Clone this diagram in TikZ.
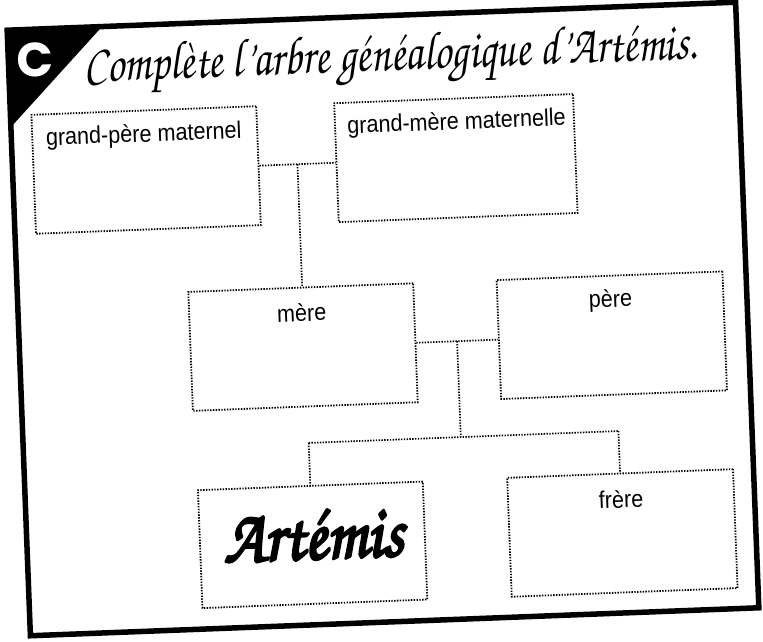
\documentclass[tikz,border=0pt]{standalone}
\usepackage[T1]{fontenc}
\usepackage{fontspec}
\setmainfont{Liberation Sans}
\newfontfamily\poppfont{Poppins}
\newcommand\chanceryfont{\fontencoding{T1}\fontfamily{pzc}\fontseries{mb}\fontshape{it}}
\newcommand\strokedtxt[1]{\special{pdf:literal direct q 2 Tr 2.2 w 1 j}#1\special{pdf:literal direct Q}}
\newcommand\narrowtxt[1]{\scalebox{0.9}[1]{#1}}
\usetikzlibrary{calc}
\tikzset{
  famillebox/.style={draw, rectangle, inner sep=0pt, line width=1.8pt,
    dash pattern=on 1.4pt off 1.4pt, minimum height=119pt},
  lien/.style={draw, line width=1.7pt, dash pattern=on 1.4pt off 1.4pt},
  lbl/.style={inner sep=0pt, font=\fontsize{24}{26}\selectfont},
}
\begin{document}
\begin{tikzpicture}[x=1pt,y=1pt]
\useasboundingbox (0,0) rectangle (763,642);
\begin{scope}[rotate around={2.2:(383,323)}, transform shape]
  % frame and corner tab
  \fill[black] (18.5,626) -- (113.5,626) -- (18.5,529) -- cycle;
  \draw[line width=5.5pt] (18.5,20) rectangle (747.5,626);
  \node[text=white, inner sep=0pt, font=\poppfont\bfseries\fontsize{48}{48}\selectfont] (lettre) at (45.7,595) {C};
  \node[anchor=base west, inner sep=0pt] (titre) at (94,571)
    {\scalebox{1}[1.25]{\resizebox{613pt}{!}{\chanceryfont\fontsize{40}{40}\selectfont Complète l'arbre généalogique d'Artémis.}}};
  % boxes
  \node[famillebox, minimum width=225pt] (gpm) at (152,481) {};
  \node[famillebox, minimum width=239pt] (gmm) at (462,481) {};
  \node[famillebox, minimum width=225pt] (mere) at (302,298) {};
  \node[famillebox, minimum width=226pt] (pere) at (611,298) {};
  \node[famillebox, minimum width=225pt, minimum height=118pt] (artemis) at (304,100) {};
  \node[famillebox, minimum width=226pt] (frere) at (614,100) {};
  % labels
  \node[lbl] (lgpm) at (151,515.5) {\narrowtxt{grand-père maternel}};
  \node[lbl] (lgmm) at (464,516) {\narrowtxt{grand-mère maternelle}};
  \node[lbl] (lmere) at (302,332.5) {\narrowtxt{mère}};
  \node[lbl] (lpere) at (611,332.5) {\narrowtxt{père}};
  \node[lbl] (lfrere) at (614,134) {\narrowtxt{frère}};
  \node[inner sep=0pt] (lartemis) at (305,110)
    {\scalebox{1}[1.15]{\resizebox{180pt}{!}{\chanceryfont\fontsize{60}{60}\selectfont\strokedtxt{Artémis}}}};
  % connectors
  \coordinate (m1) at ($(gpm.east)!0.5!(gmm.west)$);
  \draw[lien] (gpm.east) -- (gmm.west);
  \draw[lien] (m1) -- ($(mere.north west)!(m1)!(mere.north east)$);
  \coordinate (m2) at ($(mere.east)!0.5!(pere.west)$);
  \draw[lien] (mere.east) -- (pere.west);
  \coordinate (j) at (456.25,202);
  \coordinate (jl) at (304,202);
  \coordinate (jr) at (614,202);
  \draw[lien] (m2) -- (j);
  \draw[lien] (jl) -- (jr);
  \draw[lien] (jl) -- (artemis.north);
  \draw[lien] (jr) -- (frere.north);
\end{scope}
\end{tikzpicture}
\end{document}
